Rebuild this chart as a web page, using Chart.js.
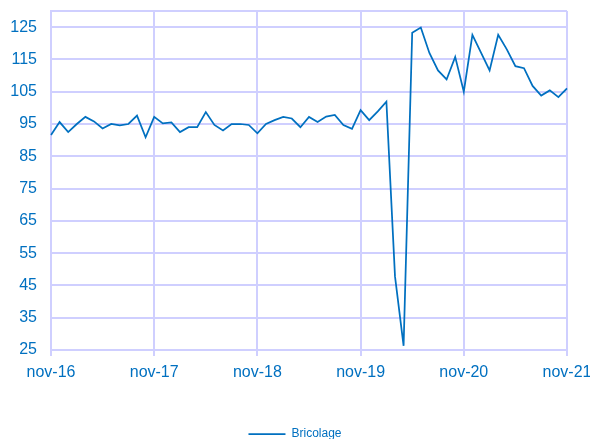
<!DOCTYPE html>
<html lang="fr">
<head>
<meta charset="utf-8">
<title>Bricolage</title>
<script src="https://cdn.jsdelivr.net/npm/chart.js@4/dist/chart.umd.min.js"></script>
<style>
  html, body { margin: 0; padding: 0; background: #fff; }
  #wrap { width: 590px; height: 439px; position: relative; }
</style>
</head>
<body>
<div id="wrap"><canvas id="myChart"></canvas></div>
<script>
// mois, de nov-16 à nov-21
const months = [
    'nov-16', 'déc-16',
    'janv-17', 'févr-17', 'mars-17', 'avr-17', 'mai-17', 'juin-17', 'juil-17', 'août-17', 'sept-17', 'oct-17', 'nov-17', 'déc-17',
    'janv-18', 'févr-18', 'mars-18', 'avr-18', 'mai-18', 'juin-18', 'juil-18', 'août-18', 'sept-18', 'oct-18', 'nov-18', 'déc-18',
    'janv-19', 'févr-19', 'mars-19', 'avr-19', 'mai-19', 'juin-19', 'juil-19', 'août-19', 'sept-19', 'oct-19', 'nov-19', 'déc-19',
    'janv-20', 'févr-20', 'mars-20', 'avr-20', 'mai-20', 'juin-20', 'juil-20', 'août-20', 'sept-20', 'oct-20', 'nov-20', 'déc-20',
    'janv-21', 'févr-21', 'mars-21', 'avr-21', 'mai-21', 'juin-21', 'juil-21', 'août-21', 'sept-21', 'oct-21', 'nov-21'
];

const bricolage = [
    91.6, 95.6, 92.5, 95.0, 97.2, 95.8, 93.6, 95.0, 94.6, 95.0, 97.6, 90.9,
    97.2, 95.2, 95.5, 92.5, 94.0, 94.0, 98.7, 94.7, 93.0, 95.0, 95.0, 94.7,
    92.1, 95.0, 96.2, 97.2, 96.7, 94.0, 97.2, 95.6, 97.3, 97.8, 94.7, 93.5,
    99.3, 96.2, 98.9, 101.9, 47.8, 26.3, 123.3, 124.9, 117.0, 111.6, 108.8, 115.8,
    105.0, 122.6, 117.1, 111.6, 122.6, 118.1, 112.9, 112.3, 106.8, 103.8, 105.4, 103.3,
    106.0
];

// graduations
const yTicks = [25, 35, 45, 55, 65, 75, 85, 95, 105, 115, 125];
const yMin = 25;
const yMax = 130;
const yearLabels = ['nov-16', 'nov-17', 'nov-18', 'nov-19', 'nov-20', 'nov-21'];

const blue = '#0070C0';
const gridColor = '#CFCFFF';

document.addEventListener("DOMContentLoaded", function() {
    const ctx = document.getElementById('myChart').getContext('2d');
    new Chart(ctx, {
        type: 'line',
        data: {
            labels: months,
            datasets: [{
                label: 'Bricolage',
                data: bricolage,
                borderColor: blue,
                backgroundColor: 'transparent',
                borderWidth: 1.75,
                pointRadius: 0,
                tension: 0,
                fill: false
            }]
        },
        options: {
            responsive: true,
            maintainAspectRatio: false,
            animation: false,
            layout: {
                padding: { top: 11, left: 0, right: 0, bottom: -11 }
            },
            scales: {
                x: {
                    offset: false,
                    grid: {
                        color: function(c) {
                            return (c.index % 12 === 0) ? gridColor : 'transparent';
                        },
                        lineWidth: 2,
                        tickLength: 6
                    },
                    border: { color: gridColor, width: 2 },
                    ticks: {
                        autoSkip: false,
                        maxRotation: 0,
                        minRotation: 0,
                        padding: 7,
                        color: blue,
                        font: { family: 'Liberation Sans, Arial, sans-serif', size: 16 },
                        callback: function(value, index) {
                            return (index % 12 === 0) ? yearLabels[index / 12] : '';
                        }
                    },
                    afterFit: function(scale) {
                        scale.height = 76;
                        scale.paddingLeft = 0;
                        scale.paddingRight = 23;
                    }
                },
                y: {
                    min: yMin,
                    max: yMax,
                    grid: {
                        color: gridColor,
                        lineWidth: 2,
                        drawTicks: false
                    },
                    border: { color: gridColor, width: 2 },
                    afterBuildTicks: function(scale) {
                        scale.ticks = yTicks.concat([yMax]).map(function(v) { return { value: v }; });
                    },
                    ticks: {
                        padding: 14,
                        color: blue,
                        font: { family: 'Liberation Sans, Arial, sans-serif', size: 16 },
                        callback: function(value) {
                            return yTicks.indexOf(value) >= 0 ? String(value) : '';
                        }
                    },
                    afterFit: function(scale) {
                        scale.width = 51;
                        scale.paddingTop = 0;
                        scale.paddingBottom = 0;
                    }
                }
            },
            plugins: {
                legend: {
                    display: true,
                    position: 'bottom',
                    labels: {
                        boxWidth: 37,
                        boxHeight: 0,
                        padding: 2,
                        color: blue,
                        font: { family: 'Liberation Sans, Arial, sans-serif', size: 12 }
                    }
                },
                tooltip: { enabled: false }
            }
        }
    });
});
</script>
</body>
</html>
